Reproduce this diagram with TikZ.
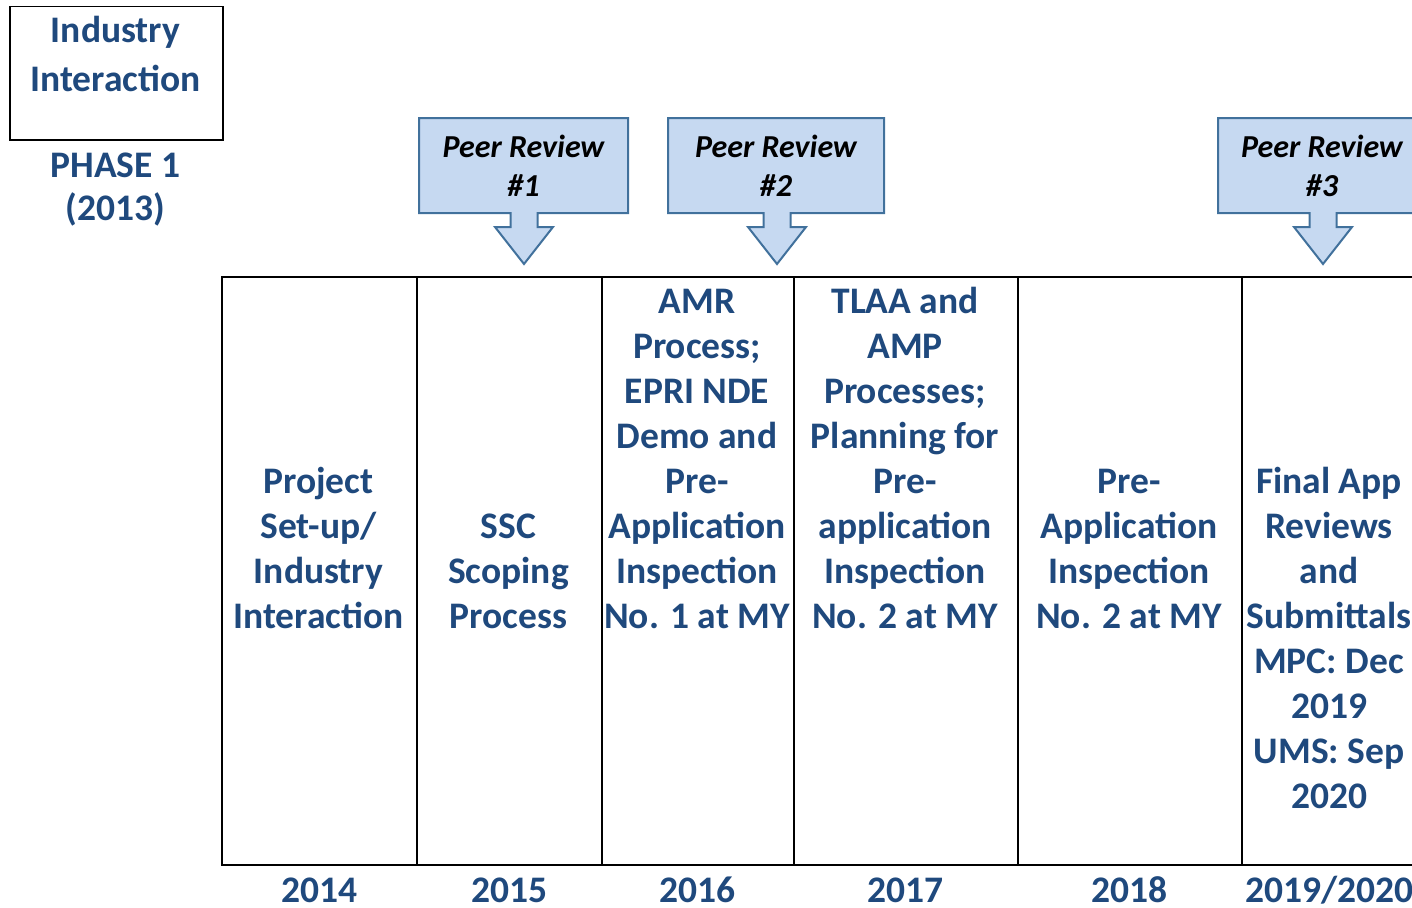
\documentclass[tikz,border=0pt]{standalone}
\usepackage{fontspec}
\setmainfont{Carlito}
\usetikzlibrary{positioning}
\definecolor{phaseblue}{HTML}{1F497D}
\definecolor{reviewfill}{HTML}{C6D9F1}
\definecolor{reviewline}{HTML}{41719C}
\tikzset{
    cell/.style={draw, line width=1.5pt, anchor=north west, minimum height=588pt, inner sep=0pt},
    tasktext/.style={text=phaseblue, font=\fontsize{37.5}{45}\selectfont\bfseries, align=center, anchor=base, inner sep=0pt},
    yeartext/.style={tasktext},
    review/.style={fill=reviewfill, draw=reviewline, line width=2pt, line join=miter},
    reviewtext/.style={font=\fontsize{32}{39}\selectfont\bfseries\itshape, align=center, anchor=base, inner sep=0pt}
}
% box with a down arrow: left, right, tip x, number
\newcommand\ReviewArrow[4]{
    \draw[review] (#1,118) -- (#2,118) -- (#2,213) -- ({#3+13.5},213) -- ({#3+13.5},227)
        -- ({#3+29},227) -- (#3,264) -- ({#3-29},227) -- ({#3-13.5},227) -- ({#3-13.5},213)
        -- (#1,213) -- cycle;
    % base is the last line
    \node[reviewtext] (review#4) at ({(#1+#2)/2},196) {Peer Review\\\##4};
}

\begin{document}
\begin{tikzpicture}[x=1pt,y=-1pt]
    \useasboundingbox (0,0) rectangle (1412,907);
    \clip (0,0) rectangle (1412,907);

    % phase 1
    \node[draw, line width=1.5pt, anchor=north west, minimum width=213pt, minimum height=133pt] (industry) at (9,6) {};
    \node[tasktext, font=\fontsize{37.5}{48}\selectfont\bfseries] (industrytext) at (115.5,91) {Industry\\Interaction};
    \node[tasktext, font=\fontsize{37.5}{43}\selectfont\bfseries] (phase) at (115.5,220) {PHASE 1\\(2013)};

    % peer reviews
    \ReviewArrow{419}{628}{524}{1}
    \ReviewArrow{668}{884}{777}{2}
    \ReviewArrow{1218}{1426}{1323}{3}

    % one cell per year
    \node[cell, minimum width=195pt] (c1) at (221,276) {};
    \node[cell, minimum width=185pt] (c2) at (416,276) {};
    \node[cell, minimum width=192pt] (c3) at (601,276) {};
    \node[cell, minimum width=224pt] (c4) at (793,276) {};
    \node[cell, minimum width=224pt] (c5) at (1017,276) {};
    \node[cell, minimum width=176pt] (c6) at (1241,276) {};

    % texts sit on their last line
    \node[tasktext] (t1) at (318.5,628) {Project\\Set-up/\\Industry\\Interaction};
    \node[tasktext] (t2) at (508.5,628) {SSC\\Scoping\\Process};
    \node[tasktext] (t3) at (697,628) {AMR\\Process;\\EPRI NDE\\Demo and\\Pre-\\Application\\Inspection\\No. 1 at MY};
    \node[tasktext] (t4) at (905,628) {TLAA and\\AMP\\Processes;\\Planning for\\Pre-\\application\\Inspection\\No. 2 at MY};
    \node[tasktext] (t5) at (1129,628) {Pre-\\Application\\Inspection\\No. 2 at MY};
    \node[tasktext] (t6) at (1329,808) {Final App\\Reviews\\and\\Submittals\\MPC: Dec\\2019\\UMS: Sep\\2020};

    \node[yeartext] (y1) at ([yshift=-37pt]c1.south) {2014};
    \node[yeartext] (y2) at ([yshift=-37pt]c2.south) {2015};
    \node[yeartext] (y3) at ([yshift=-37pt]c3.south) {2016};
    \node[yeartext] (y4) at ([yshift=-37pt]c4.south) {2017};
    \node[yeartext] (y5) at ([yshift=-37pt]c5.south) {2018};
    \node[yeartext] (y6) at ([yshift=-37pt]c6.south) {2019/2020};
\end{tikzpicture}
\end{document}
